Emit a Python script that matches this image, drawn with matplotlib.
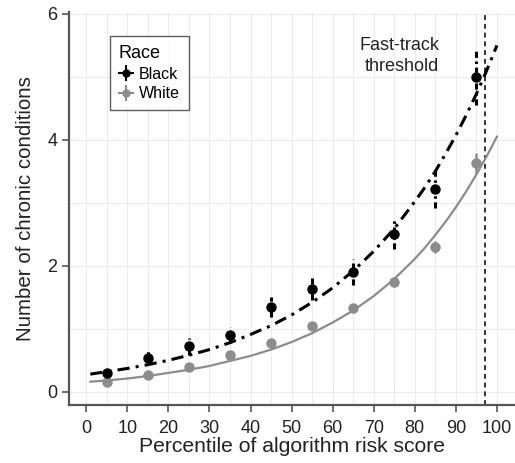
import matplotlib
matplotlib.use("Agg")
import matplotlib.pyplot as plt
from matplotlib.lines import Line2D

plt.rcParams["font.family"] = ["Liberation Sans", "DejaVu Sans"]

# percentile bins
PCTL = [5, 15, 25, 35, 45, 55, 65, 75, 85, 95]

BLACK_MEAN = [0.30, 0.54, 0.72, 0.90, 1.34, 1.63, 1.90, 2.51, 3.22, 5.00]
BLACK_ERR = [0.06, 0.10, 0.13, 0.13, 0.16, 0.18, 0.21, 0.24, 0.30, 0.45]

WHITE_MEAN = [0.15, 0.27, 0.40, 0.58, 0.78, 1.04, 1.33, 1.75, 2.30, 3.63]
WHITE_ERR = [0.03, 0.04, 0.04, 0.05, 0.05, 0.06, 0.07, 0.08, 0.10, 0.16]

# fitted curves
FIT_X = [1, 5, 10, 15, 20, 25, 30, 35, 40, 45, 50, 55, 60, 65,
         70, 75, 80, 82.5, 85, 87.5, 90, 92.5, 95, 97.5, 100]
FIT_BLACK = [0.28, 0.32, 0.37, 0.43, 0.50, 0.58, 0.67, 0.78, 0.91, 1.05, 1.22,
             1.42, 1.65, 1.92, 2.23, 2.59, 3.02, 3.25, 3.50, 3.78, 4.07,
             4.39, 4.73, 5.10, 5.50]
FIT_WHITE = [0.16, 0.18, 0.21, 0.25, 0.30, 0.35, 0.41, 0.49, 0.57, 0.67, 0.79,
             0.93, 1.10, 1.29, 1.52, 1.79, 2.11, 2.29, 2.49, 2.70, 2.93,
             3.18, 3.45, 3.74, 4.05]

THRESHOLD = 97
X_TICKS = [0, 10, 20, 30, 40, 50, 60, 70, 80, 90, 100]
Y_TICKS = [0, 2, 4, 6]

GRAY = "#8c8c8c"
AXIS_COLOR = "#555555"
TEXT_COLOR = "#222222"

fig = plt.figure(figsize=(5.15, 4.63), dpi=100)
ax = fig.add_axes([69 / 515, 58 / 463, 446 / 515, 393 / 463])

# background grid
for gx in range(0, 105, 5):
    ax.axvline(gx, color="#ececec", linewidth=0.8, zorder=0)
for gy in range(0, 7):
    ax.axhline(gy, color="#ececec", linewidth=0.8, zorder=0)

# fitted curves
ax.plot(FIT_X, FIT_WHITE, color=GRAY, linewidth=1.6, zorder=2)
ax.plot(FIT_X, FIT_BLACK, color="black", linewidth=2.2,
        linestyle=(0, (4, 2, 1, 2)), zorder=3)

# white points
ax.errorbar(PCTL, WHITE_MEAN, yerr=WHITE_ERR, fmt="o", color=GRAY,
            markersize=6.5, elinewidth=1.8, capsize=0, zorder=4)
# black points, dashed error bars
eb = ax.errorbar(PCTL, BLACK_MEAN, yerr=BLACK_ERR, fmt="o", color="black",
                 markersize=6.5, elinewidth=2.2, capsize=0, zorder=5)
for coll in eb[2]:
    coll.set_linestyle((0, (2, 1.2, 0.8, 1.2)))

# threshold
ax.axvline(THRESHOLD, color="#333333", linestyle=(0, (2.5, 2)), linewidth=1.4, zorder=1)
ax.text(86, 5.33, "Fast-track\nthreshold", ha="right", va="center",
        fontsize=13, color=TEXT_COLOR, multialignment="right", linespacing=1.25)

ax.set_xlim(-4.2, 104.4)
ax.set_ylim(-0.21, 6.03)
ax.set_xticks(X_TICKS)
ax.set_yticks(Y_TICKS)

for side in ["top", "right"]:
    ax.spines[side].set_visible(False)
for side in ["left", "bottom"]:
    ax.spines[side].set_color(AXIS_COLOR)
    ax.spines[side].set_linewidth(1.6)
ax.tick_params(axis="both", colors=AXIS_COLOR, labelcolor=TEXT_COLOR,
               labelsize=13, length=5, width=1.2)
ax.tick_params(axis="x", pad=6)

ax.set_xlabel("Percentile of algorithm risk score", fontsize=15.2,
              color=TEXT_COLOR, labelpad=0)
ax.set_ylabel("Number of chronic conditions", fontsize=14.8,
              color=TEXT_COLOR, labelpad=9)

# legend keys: point with horizontal line and vertical bar
black_key = (Line2D([0], [0], color="black", marker="o", markersize=5, linewidth=1.5),
             Line2D([0], [0], color="black", marker="|", markersize=11,
                    markeredgewidth=1.5, linestyle="none"))
white_key = (Line2D([0], [0], color=GRAY, marker="o", markersize=5, linewidth=1.5),
             Line2D([0], [0], color=GRAY, marker="|", markersize=11,
                    markeredgewidth=1.5, linestyle="none"))
leg = ax.legend([black_key, white_key], ["Black", "White"], title="Race",
                loc="upper left", bbox_to_anchor=(0.092, 0.939),
                borderaxespad=0, fontsize=11.5, title_fontsize=13,
                frameon=True, fancybox=False, edgecolor="#333333",
                handlelength=0.9, handletextpad=0.35, borderpad=0.55,
                labelspacing=0.3)
leg.get_frame().set_linewidth(1.0)
leg._legend_box.align = "left"

fig.savefig("out.png", dpi=100)
